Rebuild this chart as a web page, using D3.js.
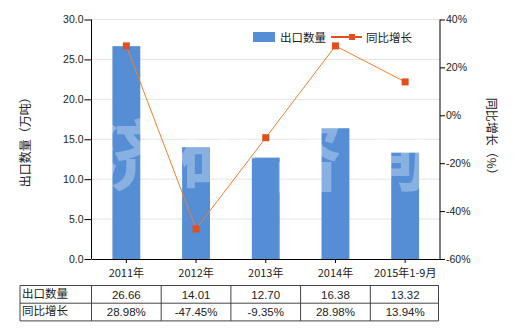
<!DOCTYPE html>
<html>
<head>
<meta charset="utf-8">
<script src="https://cdn.jsdelivr.net/npm/d3@7"></script>
<style>
  body { margin: 0; background: #fff; }
  svg { display: block; font-family: "Noto Sans CJK SC", "DejaVu Sans", sans-serif; }
</style>
</head>
<body>
<script>
const categories = ['2011年', '2012年', '2013年', '2014年', '2015年1-9月'];
const exportQty = [26.66, 14.01, 12.70, 16.38, 13.32];
const yoyGrowth = [28.98, -47.45, -9.35, 28.98, 13.94];
const qtyLabels = ['26.66', '14.01', '12.70', '16.38', '13.32'];
const yoyLabels = ['28.98%', '-47.45%', '-9.35%', '28.98%', '13.94%'];
const leftTicks = [0, 5, 10, 15, 20, 25, 30];
const rightTicks = [-60, -40, -20, 0, 20, 40];

const width = 520;
const height = 330;
const margin = { top: 19.5, right: 80, bottom: 71, left: 91.5 };

const barColor = '#558ed5';
const lineColor = '#f07f2d';
const markerColor = '#e0501c';
const numFont = '"Liberation Sans", Arial, sans-serif';

const svg = d3.select('body')
  .append('svg')
  .attr('width', width)
  .attr('height', height);

const x = d3.scaleBand()
  .domain(categories)
  .range([margin.left, width - margin.right])
  .paddingInner(0.6)
  .paddingOuter(0.3);

const xc = d => x(d) + x.bandwidth() / 2;

const y = d3.scaleLinear()
  .domain([0, 30])
  .range([height - margin.bottom, margin.top]);

const y2 = d3.scaleLinear()
  .domain([-60, 40])
  .range([height - margin.bottom, margin.top]);

// gridlines
svg.append('g')
  .selectAll('line')
  .data(leftTicks.filter(d => d > 0))
  .join('line')
    .attr('x1', margin.left)
    .attr('x2', width - margin.right)
    .attr('y1', d => y(d))
    .attr('y2', d => y(d))
    .attr('stroke', '#e3e3e3')
    .attr('stroke-width', 1);

// bars
svg.append('g')
  .selectAll('rect')
  .data(exportQty)
  .join('rect')
    .attr('x', (d, i) => x(categories[i]))
    .attr('y', d => y(d))
    .attr('width', x.bandwidth())
    .attr('height', d => y(0) - y(d))
    .attr('fill', barColor);

// watermark
svg.append('text')
  .attr('x', 265)
  .attr('y', 185)
  .attr('text-anchor', 'middle')
  .attr('font-size', 78)
  .attr('font-weight', 'bold')
  .attr('fill', '#fff')
  .attr('opacity', 0.3)
  .attr('letter-spacing', 8)
  .text('济研咨询');

// line
const line = d3.line()
  .x((d, i) => xc(categories[i]))
  .y(d => y2(d));

svg.append('path')
  .datum(yoyGrowth)
  .attr('fill', 'none')
  .attr('stroke', lineColor)
  .attr('stroke-width', 1)
  .attr('d', line);

svg.append('g')
  .selectAll('rect')
  .data(yoyGrowth)
  .join('rect')
    .attr('x', (d, i) => xc(categories[i]) - 3.5)
    .attr('y', d => y2(d) - 3.5)
    .attr('width', 7)
    .attr('height', 7)
    .attr('fill', markerColor);

// axes
const fmt = d3.format('.1f');
const leftAxis = svg.append('g')
  .attr('transform', `translate(${margin.left},0)`)
  .call(d3.axisLeft(y).tickValues(leftTicks).tickFormat(fmt).tickSize(7).tickPadding(1));

const rightAxis = svg.append('g')
  .attr('transform', `translate(${width - margin.right},0)`)
  .call(d3.axisRight(y2).tickValues(rightTicks).tickFormat(d => d + '%').tickSize(5).tickPadding(1));

const bottomAxis = svg.append('g')
  .attr('transform', `translate(0,${height - margin.bottom})`)
  .call(d3.axisBottom(x).tickSize(4).tickPadding(6).tickSizeOuter(0));

[leftAxis, rightAxis, bottomAxis].forEach(g => {
  g.selectAll('path, line').attr('stroke', '#000');
  g.selectAll('text')
    .attr('fill', '#222')
    .attr('font-size', 10.5)
    .attr('font-family', numFont);
});
bottomAxis.selectAll('text')
  .attr('font-family', '"Noto Sans CJK SC", sans-serif')
  .attr('font-size', 11);
leftAxis.select('.domain').attr('d', `M0,${margin.top}V${height - margin.bottom}`);
rightAxis.select('.domain').attr('d', `M0,${margin.top}V${height - margin.bottom}`);

// axis titles
svg.append('text')
  .attr('transform', `translate(30,${(margin.top + height - margin.bottom) / 2}) rotate(-90)`)
  .attr('text-anchor', 'middle')
  .attr('font-size', 12)
  .attr('fill', '#222')
  .text('出口数量（万吨）');

svg.append('text')
  .attr('transform', `translate(487,${(margin.top + height - margin.bottom) / 2}) rotate(90)`)
  .attr('text-anchor', 'middle')
  .attr('font-size', 12)
  .attr('fill', '#222')
  .text('同比增长（%）');

// legend
const legend = svg.append('g').attr('font-size', 11.5).attr('fill', '#222');
legend.append('rect')
  .attr('x', 253).attr('y', 32).attr('width', 22).attr('height', 10)
  .attr('fill', barColor);
legend.append('text').attr('x', 280).attr('y', 41.5).text('出口数量');
legend.append('line')
  .attr('x1', 331).attr('x2', 362).attr('y1', 37).attr('y2', 37)
  .attr('stroke', markerColor).attr('stroke-width', 2);
legend.append('rect')
  .attr('x', 349).attr('y', 34).attr('width', 6).attr('height', 6)
  .attr('fill', markerColor);
legend.append('text').attr('x', 366).attr('y', 41.5).text('同比增长');

// data table
const tableLeft = 20;
const tableRight = width - margin.right - 1.5;
const rowTop = 285.5;
const rowH = 17.7;
const colEdges = [tableLeft, margin.left].concat(categories.map(c => x(c) + x.bandwidth() / 2 + x.step() / 2));
colEdges[colEdges.length - 1] = tableRight;

const table = svg.append('g');
[0, 1, 2].forEach(r => {
  table.append('line')
    .attr('x1', tableLeft).attr('x2', tableRight)
    .attr('y1', rowTop + r * rowH).attr('y2', rowTop + r * rowH)
    .attr('stroke', '#444').attr('stroke-width', 1);
});
table.selectAll('.col')
  .data(colEdges)
  .join('line')
    .attr('x1', d => d).attr('x2', d => d)
    .attr('y1', rowTop).attr('y2', rowTop + 2 * rowH)
    .attr('stroke', '#444').attr('stroke-width', 1);

const rows = [
  { name: '出口数量', values: qtyLabels },
  { name: '同比增长', values: yoyLabels }
];
rows.forEach((row, r) => {
  const ty = rowTop + r * rowH + 13;
  table.append('text')
    .attr('x', tableLeft + 2).attr('y', ty - 1)
    .attr('font-size', 11.5).attr('fill', '#222')
    .text(row.name);
  table.selectAll(null)
    .data(row.values)
    .join('text')
      .attr('x', (d, i) => xc(categories[i]))
      .attr('y', ty)
      .attr('text-anchor', 'middle')
      .attr('font-size', 11.5)
      .attr('font-family', numFont)
      .attr('fill', '#222')
      .text(d => d);
});
</script>
</body>
</html>
